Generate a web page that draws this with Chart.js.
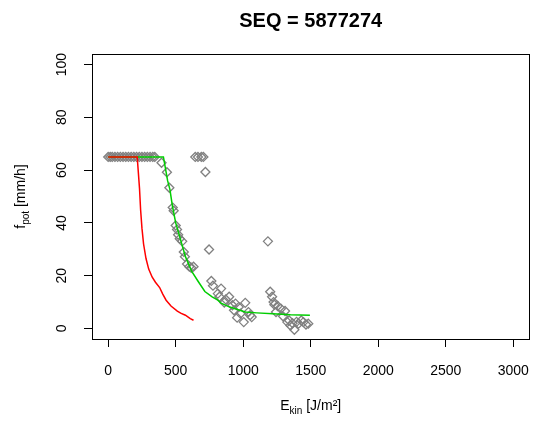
<!DOCTYPE html>
<html>
<head>
<meta charset="utf-8">
<script src="https://cdn.jsdelivr.net/npm/chart.js@4.4.1/dist/chart.umd.min.js"></script>
<style>
html,body{margin:0;padding:0;background:#fff;}
</style>
</head>
<body>
<canvas id="chart-one" width="545" height="421"></canvas>
<script>
// observed points (kinetic energy vs potential infiltration)
const obsEnergy = [0,15,30,50,70,90,110,130,150,170,190,210,230,250,270,290,310,330,345,
  395,435,453,478,485,500,510,518,530,548,560,568,584,601,615,632,
  645,665,690,705,720,747,764,776,812,824,836,860,871,896,920,932,943,955,967,980,1004,1015,1039,1051,1063,
  1183,1200,1214,1225,1231,1243,1255,1279,1295,1310,1327,1340,1350,1365,1379,1395,1410,1430,1446,1465,1482];
const obsInfil = [65,65,65,65,65,65,65,65,65,65,65,65,65,65,65,65,65,65,65,
  62.8,59.2,53.3,45.8,44.6,39,37.5,35.5,34,33,29,27.2,24.4,23.4,23,23.4,
  65,65,65,65,59.3,29.9,18,16.2,13.2,12,15.1,9.8,11,12,8.8,6.9,9.4,4.1,8.1,5.6,2.4,9.7,6.2,5,4.3,
  33,13.9,12,10,9,6.2,8.5,7.5,4.6,6.6,2.4,3,1.1,2,-0.5,2.5,1.8,3,2.4,1.5,1.8];

// fitted curve (green)
const fitEnergy = [0,100,200,300,409,440,457,476,500,529,572,620,668,716,770,812,836,900,1015,1100,1219,1350,1494];
const fitInfil  = [65,65,65,65,65,56,52.7,46.3,40,34.9,27.2,21.5,17.7,14,12,10.7,9.6,8.1,6.2,5.9,5.6,5.2,5];

// reference curve (red)
const refEnergy = [0,100,215,222,232,240,250,262,280,300,325,350,381,404,429,465,512,537,572,608,632];
const refInfil  = [65,65,65,60,53,45,38,32,26.5,22.5,19.5,17.5,15.5,13,10.7,8.5,6.6,5.8,5,3.7,3.1];

const xTicks = [0,500,1000,1500,2000,2500,3000];
const yTicks = [0,20,40,60,80,100];
const titleText = 'SEQ = 5877274';

const FONT = "'Liberation Sans', Arial, Helvetica, sans-serif";

function pairs(xs, ys){
  return xs.map((x,i)=>({x:x, y:ys[i]}));
}

function drawSub(ctx, main, sub, rest, cx, baseY){
  const big = '14px ' + FONT, small = '10px ' + FONT;
  ctx.font = big; const w1 = ctx.measureText(main).width; const w3 = ctx.measureText(rest).width;
  ctx.font = small; const w2 = ctx.measureText(sub).width;
  let x = cx - (w1+w2+w3)/2;
  ctx.textAlign = 'left';
  ctx.textBaseline = 'alphabetic';
  ctx.font = big; ctx.fillText(main, x, baseY); x += w1;
  ctx.font = small; ctx.fillText(sub, x, baseY + 4); x += w2;
  ctx.font = big; ctx.fillText(rest, x, baseY);
}

const frameAndLabels = {
  id: 'frameAndLabels',
  afterDraw(chart){
    const ctx = chart.ctx;
    const a = chart.chartArea;
    const yScale = chart.scales.y;
    const cx = (a.left + a.right)/2;
    ctx.save();
    // box round plot
    ctx.strokeStyle = '#000';
    ctx.lineWidth = 1;
    ctx.strokeRect(Math.round(a.left)+0.5, Math.round(a.top)+0.5, Math.round(a.right-a.left), Math.round(a.bottom-a.top));

    // title, centred over plot region
    ctx.fillStyle = '#000';
    ctx.font = 'bold 20px ' + FONT;
    ctx.textAlign = 'center';
    ctx.textBaseline = 'alphabetic';
    ctx.fillText(titleText, cx, 27);

    // rotated y tick labels
    ctx.font = '14px ' + FONT;
    ctx.textBaseline = 'middle';
    yTicks.forEach(v=>{
      const py = yScale.getPixelForValue(v);
      ctx.save();
      ctx.translate(62, py);
      ctx.rotate(-Math.PI/2);
      ctx.fillText(String(v), 0, 0);
      ctx.restore();
    });

    // x axis title with subscript
    drawSub(ctx, 'E', 'kin', ' [J/m\u00b2]', cx, 410);

    // y axis title, rotated
    ctx.save();
    ctx.translate(25, (a.top + a.bottom)/2);
    ctx.rotate(-Math.PI/2);
    drawSub(ctx, 'f', 'pot', ' [mm/h]', 0, 0);
    ctx.restore();
    ctx.restore();
  }
};

const ctx = document.getElementById('chart-one').getContext('2d');

new Chart(ctx, {
  type: 'scatter',
  data: {
    datasets: [
      {
        label: 'reference',
        data: pairs(refEnergy, refInfil),
        showLine: true,
        borderColor: '#ff0000',
        borderWidth: 1.5,
        pointRadius: 0,
        tension: 0
      },
      {
        label: 'fit',
        data: pairs(fitEnergy, fitInfil),
        showLine: true,
        borderColor: '#00cd00',
        borderWidth: 1.5,
        pointRadius: 0,
        tension: 0
      },
      {
        label: 'observed',
        data: pairs(obsEnergy, obsInfil),
        showLine: false,
        pointStyle: 'rectRot',
        pointRadius: 4.5,
        borderWidth: 1.3,
        borderColor: '#808080',
        backgroundColor: 'rgba(0,0,0,0)'
      }
    ]
  },
  options: {
    responsive: false,
    animation: false,
    clip: false,
    layout: { padding: { left: 0, right: 4, top: 54, bottom: 0 } },
    plugins: {
      legend: { display: false },
      tooltip: { enabled: false },
      title: { display: false }
    },
    scales: {
      x: {
        type: 'linear',
        min: -120,
        max: 3120,
        afterBuildTicks: s => { s.ticks = xTicks.map(v=>({value:v})); },
        afterFit: s => { s.height = 82; },
        grid: { drawOnChartArea: false, drawTicks: true, tickLength: 8, color: '#000' },
        border: { display: false },
        ticks: {
          color: '#000', font: { family: FONT, size: 14 }, padding: 16, maxRotation: 0, autoSkip: false,
          callback: v => String(v)
        }
      },
      y: {
        type: 'linear',
        min: -4,
        max: 104,
        afterBuildTicks: s => { s.ticks = yTicks.map(v=>({value:v})); },
        afterFit: s => { s.width = 92; },
        grid: { drawOnChartArea: false, drawTicks: true, tickLength: 8, color: '#000' },
        border: { display: false },
        ticks: { color: 'rgba(0,0,0,0)', font: { family: FONT, size: 14 } }
      }
    }
  },
  plugins: [frameAndLabels]
});
</script>
</body>
</html>
